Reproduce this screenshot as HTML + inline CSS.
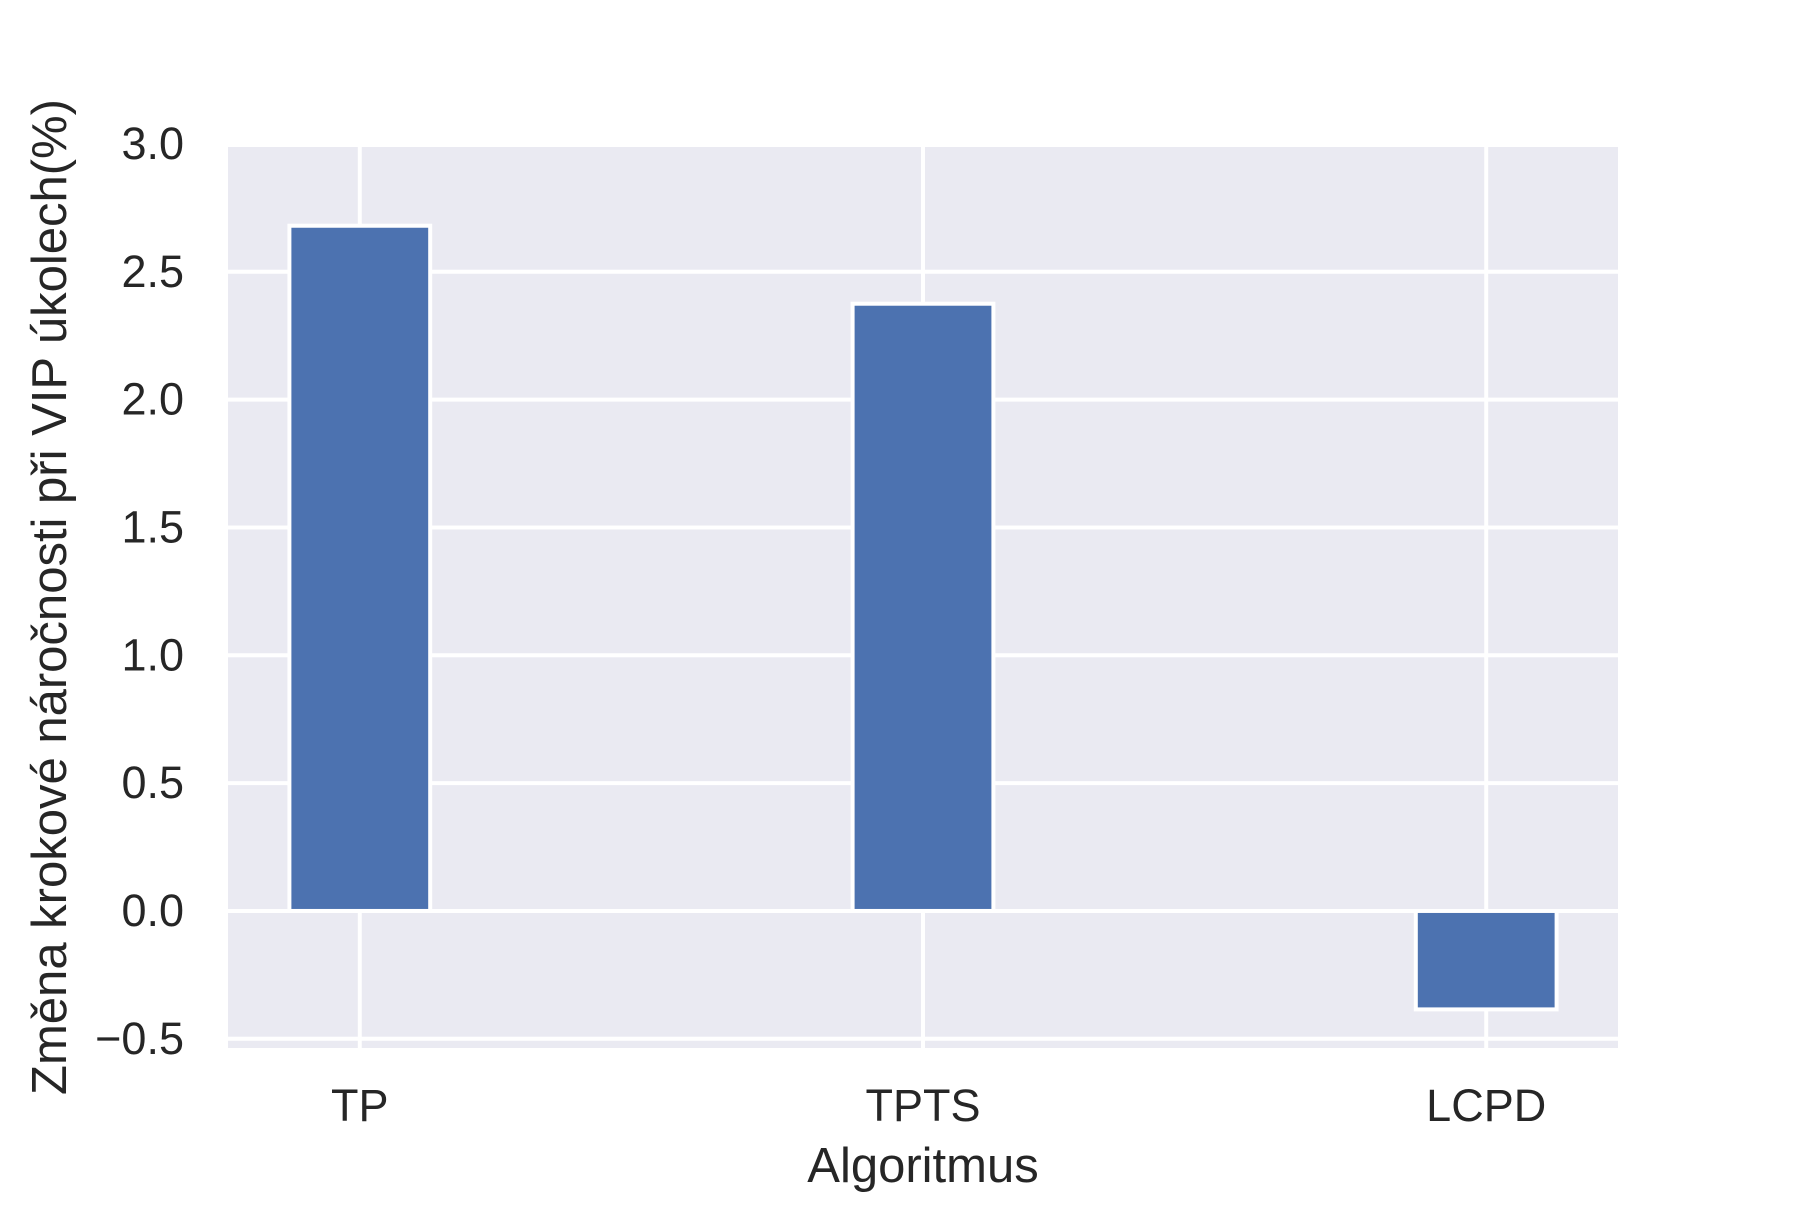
<!DOCTYPE html>
<html><head><meta charset="utf-8"><style>
body{margin:0;background:#fff}
svg text{font-family:"Liberation Sans","DejaVu Sans",sans-serif;fill:#262626}
</style></head><body>
<svg id="chart" width="1800" height="1200" viewBox="0 0 1800 1200" xmlns="http://www.w3.org/2000/svg">
<rect x="228" y="147" width="1390" height="901" fill="#eaeaf2"/>
<g id="grid"></g>
<g id="bars"></g>
<g id="yticks"></g>
<g id="xticks"></g>
<text x="923" y="1182" font-size="49" text-anchor="middle">Algoritmus</text>
<text transform="translate(66,597) rotate(-90)" font-size="49" text-anchor="middle">Změna krokové náročnosti při VIP úkolech(%)</text>
</svg>
<script>
const categories = ["TP", "TPTS", "LCPD"];
const values = [2.68, 2.375, -0.385];
const yTicks = [-0.5, 0.0, 0.5, 1.0, 1.5, 2.0, 2.5, 3.0];
const yTickLabels = ["\u22120.5", "0.0", "0.5", "1.0", "1.5", "2.0", "2.5", "3.0"];

const NS = "http://www.w3.org/2000/svg";
const L = 228, R = 1618, T = 147, B = 1048;
const xMin = -0.234, xMax = 2.234, yMin = -0.536, yMax = 2.988;
const xs = i => L + (i - xMin) / (xMax - xMin) * (R - L);
const ys = v => B - (v - yMin) / (yMax - yMin) * (B - T);
function mk(tag, attrs, parent) {
  const e = document.createElementNS(NS, tag);
  for (const k in attrs) e.setAttribute(k, attrs[k]);
  parent.appendChild(e);
  return e;
}
const grid = document.getElementById("grid");
const bars = document.getElementById("bars");
const yt = document.getElementById("yticks");
const xt = document.getElementById("xticks");
yTicks.forEach((v, i) => {
  const y = ys(v);
  if (y >= T - 4 && y <= B) {
    const l = mk("line", {x1: L, x2: R, y1: y, y2: y, stroke: "#fff", "stroke-width": 4}, grid);
    
    
  }
  const t = mk("text", {x: 184, y: y + 15, "font-size": 45, "text-anchor": "end"}, yt);
  t.textContent = yTickLabels[i];
  
  
});
const bw = 0.25;
categories.forEach((c, i) => {
  const x = xs(i);
  const g = mk("line", {x1: x, x2: x, y1: T, y2: B, stroke: "#fff", "stroke-width": 4}, grid);
  
  
  const x0 = xs(i - bw / 2), x1 = xs(i + bw / 2);
  const y0 = ys(Math.max(0, values[i])), y1 = ys(Math.min(0, values[i]));
  const r = mk("rect", {x: x0, y: y0, width: x1 - x0, height: y1 - y0, fill: "#4c72b0", stroke: "#fff", "stroke-width": 4}, bars);
  
  
  const t = mk("text", {x: x, y: 1121, "font-size": 45, "text-anchor": "middle"}, xt);
  t.textContent = c;
  
  
});
</script>
</body></html>
